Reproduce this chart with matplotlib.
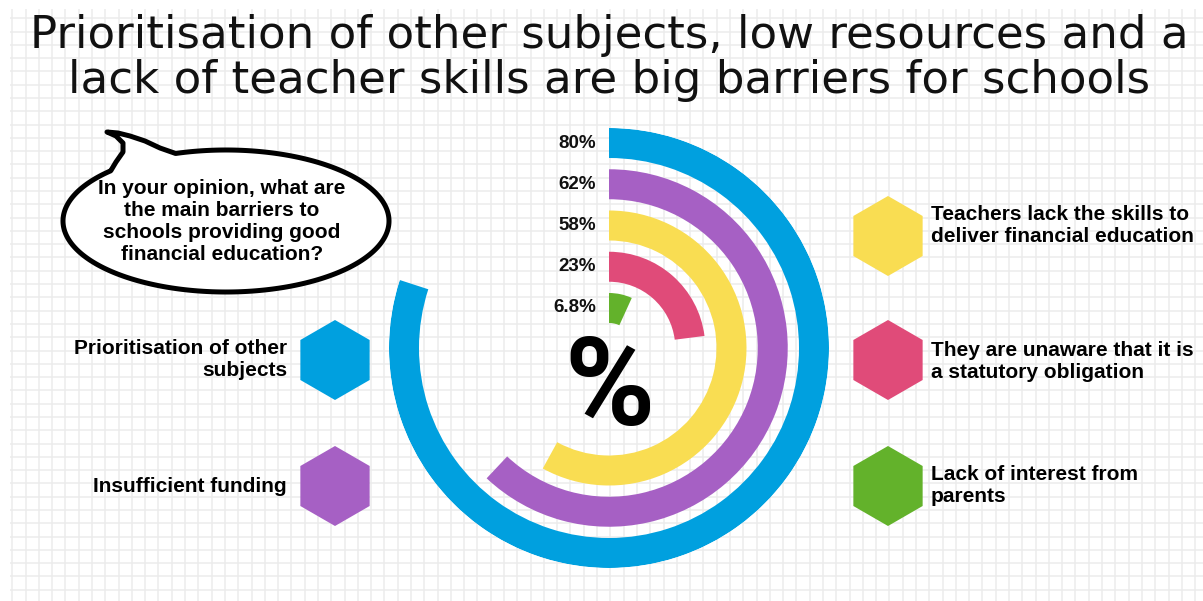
import numpy as np
import matplotlib
matplotlib.use("Agg")
import matplotlib.pyplot as plt
from matplotlib.patches import RegularPolygon, Polygon

# ---------------- data ----------------
title_lines = ["Prioritisation of other subjects, low resources and a",
               "lack of teacher skills are big barriers for schools"]
question = "In your opinion, what are\nthe main barriers to\nschools providing good\nfinancial education?"
categories = ["Prioritisation of other\nsubjects",
              "Insufficient funding",
              "Teachers lack the skills to\ndeliver financial education",
              "They are unaware that it is\na statutory obligation",
              "Lack of interest from\nparents"]
values = [80, 62, 58, 23, 6.8]
value_labels = ["80%", "62%", "58%", "23%", "6.8%"]
colors = ["#00a0df", "#a660c4", "#f9dd52", "#e04b79", "#63b22b"]

W, H = 1203, 601
fig = plt.figure(figsize=(W / 100, H / 100), dpi=100)
fig.patch.set_facecolor("white")

ax = fig.add_axes([0, 0, 1, 1])
ax.set_xlim(0, W)
ax.set_ylim(H, 0)
ax.axis("off")

# ---------------- grid paper background ----------------
step = 13.29
xs = np.arange(12.3, W, step)
ys = 510 - step * np.arange(0, 40)
ys = ys[ys > 12]
ys = np.concatenate([ys, np.arange(510 + step, H, step)])
ax.vlines(xs, 9, H, color="#ececec", lw=1.1, zorder=0)
ax.hlines(ys, 10, W, color="#ececec", lw=1.1, zorder=0)

# ---------------- title ----------------
title_font = ["DejaVu Sans"]
ax.text(609, 48, title_lines[0], ha="center", va="baseline", fontsize=32.5,
        family=title_font, color="#111111")
ax.text(609, 93, title_lines[1], ha="center", va="baseline", fontsize=32.5,
        family=title_font, color="#111111")

# ---------------- speech bubble ----------------
cx, cy, a, b = 226, 221, 163, 71
t = np.radians(np.linspace(108, -225, 300))
pts = list(zip(cx + a * np.cos(t), cy - b * np.sin(t)))
tail = [(116, 162), (123, 152), (123, 143), (116, 136), (107, 132),
        (118, 133), (130, 136), (145, 141), (160, 148)]
pts += tail
bubble = Polygon(pts, closed=True, facecolor="white", edgecolor="black",
                 lw=3.6, joinstyle="round", zorder=2)
ax.add_patch(bubble)
label_font = ["Liberation Sans", "DejaVu Sans"]
ax.text(222, 221, question, ha="center", va="center", fontsize=15,
        fontweight="bold", family=label_font, linespacing=1.2, zorder=3)

# ---------------- hexagons + labels ----------------
hex_pos = [(335, 360), (335, 486), (888, 236), (888, 360), (888, 486)]
text_y = [360, 487, 226, 361, 486]
for i, (cat, col) in enumerate(zip(categories, colors)):
    hx, hy = hex_pos[i]
    ax.add_patch(RegularPolygon((hx, hy), numVertices=6, radius=40,
                                orientation=0, facecolor=col, edgecolor="none", zorder=2))
    if hx < 600:
        ax.text(287, text_y[i], cat, ha="right", va="center", fontsize=15,
                fontweight="bold", family=label_font, linespacing=1.2, zorder=3)
    else:
        ax.text(931, text_y[i], cat, ha="left", va="center", fontsize=15,
                fontweight="bold", family=label_font, linespacing=1.2, zorder=3)

# ---------------- radial bars ----------------
pcx, pcy, R = 609, 348, 220
pax = fig.add_axes([(pcx - R) / W, (H - pcy - R) / H, 2 * R / W, 2 * R / H],
                   projection="polar")
pax.set_theta_zero_location("N")
pax.set_theta_direction(-1)
pax.set_rlim(0, R)
pax.axis("off")
ring_w = 30
ring_step = 41.25
n = len(values)
for i, (v, col) in enumerate(zip(values, colors)):
    r_in = 25 + ring_step * (n - 1 - i)
    pax.bar(0, ring_w, width=np.radians(360 * v / 100), bottom=r_in,
            align="edge", color=col, edgecolor="none")
    ax.text(596, pcy - (r_in + ring_w / 2), value_labels[i], ha="right",
            va="center", fontsize=13.5, fontweight="bold", family=label_font,
            color="#111111", zorder=3)

ax.text(609, 391, "%", ha="center", va="center", fontsize=88,
        fontweight="bold", family=["Roboto", "Liberation Sans"],
        color="black", zorder=3)

fig.savefig("out.png", dpi=100, facecolor="white")
